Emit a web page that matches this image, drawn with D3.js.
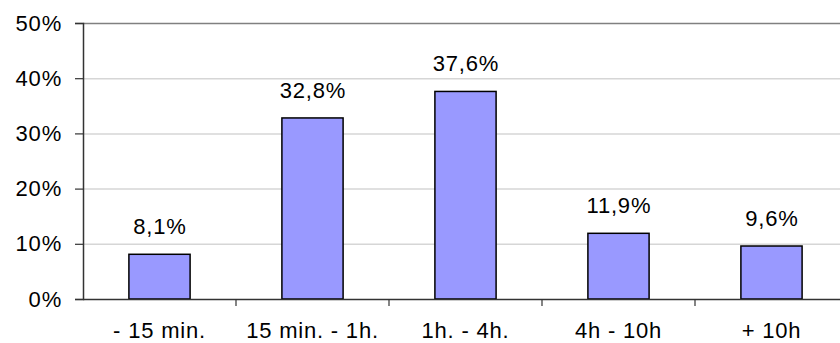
<!DOCTYPE html>
<html>
<head>
<meta charset="utf-8">
<script src="https://cdn.jsdelivr.net/npm/d3@7"></script>
<style>
  html, body { margin: 0; padding: 0; background: #fff; }
  svg text { font-family: Arial, "Liberation Sans", sans-serif; fill: #000; }
</style>
</head>
<body>
<svg id="chart" width="840" height="343"></svg>
<script>
// Share of sessions by duration bracket
const categories = ["- 15 min.", "15 min. - 1h.", "1h. - 4h.", "4h - 10h", "+ 10h"];
const values = [8.1, 32.8, 37.6, 11.9, 9.6];
const yTicks = [0, 10, 20, 30, 40, 50];

const svg = d3.select("#chart");
const plotLeft = 83, plotRight = 848, plotTop = 23, plotBottom = 299;
const fontSize = 22, spacing = 0.8;

const x = d3.scaleBand().domain(categories).range([plotLeft, plotRight]).paddingInner(0.6).paddingOuter(0.3);
const xb = d3.scaleBand().domain(categories).range([plotLeft, plotRight]);
const y = d3.scaleLinear().domain([0, 50]).range([plotBottom, plotTop]);

// horizontal gridlines
svg.append("g").selectAll("line").data(yTicks.filter(d => d > 0 && d < 50)).join("line")
  .attr("x1", plotLeft).attr("x2", 840)
  .attr("y1", d => y(d) + 0.5).attr("y2", d => y(d) + 0.5)
  .attr("stroke", "#d6d6d6").attr("stroke-width", 1.5);

// top border of plot area
svg.append("line").attr("x1", plotLeft).attr("x2", 840)
  .attr("y1", y(50) + 0.5).attr("y2", y(50) + 0.5)
  .attr("stroke", "#808080").attr("stroke-width", 1.5);

// bars
svg.append("g").selectAll("rect").data(values).join("rect")
  .attr("x", (d, i) => x(categories[i]))
  .attr("width", x.bandwidth())
  .attr("y", d => y(d))
  .attr("height", d => y(0) - y(d))
  .attr("fill", "#9999ff").attr("stroke", "#000").attr("stroke-width", 1.5);

// value labels
svg.append("g").selectAll("text").data(values).join("text")
  .attr("x", (d, i) => xb(categories[i]) + xb.bandwidth() / 2 + spacing / 2)
  .attr("y", d => y(d) - 20)
  .attr("text-anchor", "middle")
  .attr("font-size", fontSize)
  .attr("letter-spacing", spacing)
  .text(d => d.toFixed(1).replace(".", ",") + "%");

// y axis
const yAxis = d3.axisLeft(y).tickValues(yTicks).tickSize(8).tickPadding(13)
  .tickFormat(d => d + "%");
const gy = svg.append("g").attr("transform", `translate(${plotLeft},0)`).call(yAxis);
gy.select(".domain").attr("stroke", "#333").attr("stroke-width", 1.5);
gy.selectAll(".tick line").attr("stroke", "#333").attr("stroke-width", 1.2);
gy.selectAll(".tick text").attr("font-size", fontSize).attr("letter-spacing", spacing).attr("fill", "#000")
  .attr("font-family", "Arial, 'Liberation Sans', sans-serif");

// x axis
const xAxis = d3.axisBottom(xb).tickSize(0).tickPadding(0);
const gx = svg.append("g").attr("transform", `translate(0,${plotBottom})`).call(xAxis);
gx.select(".domain").remove();
gx.append("line").attr("x1", plotLeft).attr("x2", 840).attr("y1", 0.5).attr("y2", 0.5)
  .attr("stroke", "#333").attr("stroke-width", 1.5);
gx.selectAll(".tick text").attr("font-size", fontSize).attr("letter-spacing", spacing).attr("fill", "#000")
  .attr("font-family", "Arial, 'Liberation Sans', sans-serif")
  .attr("dy", null).attr("y", 38.5);
// category separator ticks
gx.append("g").selectAll("line").data(categories.slice(1)).join("line")
  .attr("x1", d => xb(d)).attr("x2", d => xb(d))
  .attr("y1", 0).attr("y2", 7)
  .attr("stroke", "#333").attr("stroke-width", 1.2);
</script>
</body>
</html>
